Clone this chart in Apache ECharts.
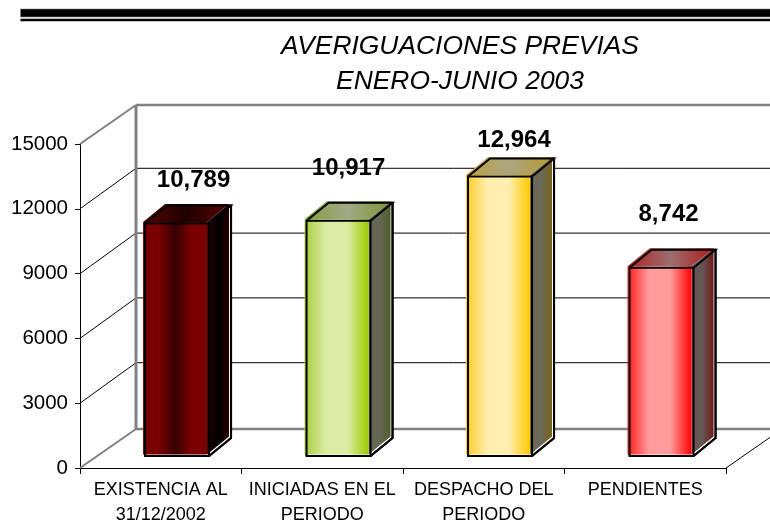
<!DOCTYPE html>
<html>
<head>
<meta charset="utf-8">
<style>html,body{margin:0;padding:0;background:#fff}#c{width:770px;height:532px}</style>
<script src="https://cdn.jsdelivr.net/npm/echarts@6/dist/echarts.min.js"></script>
</head>
<body>
<div id="c"></div>
<script>
var titleLines = ['AVERIGUACIONES PREVIAS', 'ENERO-JUNIO 2003'];
var categories = ['EXISTENCIA AL\n31/12/2002', 'INICIADAS EN EL\nPERIODO', 'DESPACHO DEL\nPERIODO', 'PENDIENTES'];
var values = [10789, 10917, 12964, 8742];
var yTicks = [0, 3000, 6000, 9000, 12000, 15000];

var chart = echarts.init(document.getElementById('c'), null, {renderer: 'canvas'});
var FONT = '"Liberation Sans", Arial, sans-serif';

// projection / styling of the pseudo-3D look
var WALL = {dx: 56, dy: -39, innerDy: -40.5};
var BAR = {w: 64, shift: 16.3, lift: 12, dx: 22, dy: -18};
var LABEL_NUDGE = [[16.5, -13], [10, -22], [14, -6], [7, -23]];

function h(stops) {
  return {type: 'linear', x: 0, y: 0, x2: 1, y2: 0,
    colorStops: stops.map(function (c, i) { return {offset: i / (stops.length - 1), color: c}; })};
}
var PAINT = [
  {front: h(['#7a0000', '#7a0000', '#340000', '#7a0000', '#7a0000']), top: h(['#560000', '#200000', '#580000']), side: h(['#2a0000', '#000000', '#240000'])},
  {front: h(['#a5cf3c', '#dcecA4', '#dcecA4', '#99cc00']), top: h(['#86a040', '#a2a884', '#7c9838']), side: h(['#666655', '#666655', '#50602a'])},
  {front: h(['#ffcc22', '#ffeeb0', '#ffeeb0', '#ffc800']), top: h(['#bea040', '#aca680', '#b89a30']), side: h(['#6c6a58', '#6c6a58', '#7a6018'])},
  {front: h(['#ff1a1a', '#ff9c9c', '#ff9c9c', '#ff0000']), top: h(['#b02020', '#9a7070', '#b01818']), side: h(['#665555', '#665555', '#701818'])}
];

function renderWall(params, api) {
  var tick = api.value(0);
  var left = api.coord([0, tick]);
  var x0 = params.coordSys.x, x1 = x0 + params.coordSys.width;
  var y = left[1];
  var edge = (tick === yTicks[0] || tick === yTicks[yTicks.length - 1]);
  var dy = edge ? WALL.dy : WALL.innerDy;
  var kids = [{
    type: 'line',
    shape: {x1: x0, y1: y, x2: x0 + WALL.dx, y2: y + dy},
    style: {stroke: edge ? '#808080' : '#000', lineWidth: edge ? 2 : 1}
  }, {
    type: 'line',
    shape: {x1: x0 + WALL.dx, y1: y + dy, x2: x1 + WALL.dx, y2: y + dy},
    style: {stroke: edge ? '#808080' : '#000', lineWidth: edge ? 2.4 : 1}
  }];
  if (tick === yTicks[0]) {
    kids.push({
      type: 'line',
      shape: {x1: x1, y1: y, x2: x1 + WALL.dx, y2: y + WALL.dy},
      style: {stroke: '#000', lineWidth: 1}
    });
  }
  if (tick === yTicks[yTicks.length - 1]) {
    var base = api.coord([0, 0]);
    kids.push({
      type: 'line',
      shape: {x1: x0 + WALL.dx, y1: y + WALL.dy, x2: x0 + WALL.dx, y2: base[1] + WALL.dy},
      style: {stroke: '#808080', lineWidth: 3}
    });
  }
  return {type: 'group', children: kids};
}

function poly(pts, ox, oy) {
  return pts.map(function (p) { return [p[0] + ox, p[1] + oy]; });
}

function renderBar(params, api) {
  var i = api.value(0), v = api.value(1);
  var top = api.coord([i, v]), base = api.coord([i, 0]);
  var xl = top[0] + BAR.shift - BAR.w / 2, xr = xl + BAR.w;
  var yt = top[1] - BAR.lift + 0.5, yb = base[1] - BAR.lift;
  var d = BAR.dx, e = BAR.dy;
  var p = PAINT[i];
  var front = [[xl, yt], [xr, yt], [xr, yb], [xl, yb]];
  var topFace = [[xl, yt], [xl + d, yt + e], [xr + d, yt + e], [xr, yt]];
  var side = [[xr, yt], [xr + d, yt + e], [xr + d, yb + e], [xr, yb]];
  var outline = [[xl, yb], [xl, yt], [xl + d, yt + e], [xr + d, yt + e], [xr + d, yb + e], [xr, yb]];
  var fx = -2, fy = -1.5;
  function shape(pts, style) { return {type: 'polygon', shape: {points: pts}, style: style}; }
  return {type: 'group', children: [
    shape(outline, {fill: '#fff', stroke: '#000', lineWidth: 2, lineJoin: 'miter'}),
    shape(poly(side, fx, fy), {fill: p.side}),
    shape(poly(topFace, fx, fy), {fill: p.top}),
    shape(poly(front, fx, fy), {fill: p.front}),
    {type: 'polyline', shape: {points: [[xl, yb], [xl, yt], [xr, yt], [xr, yb], [xl, yb]]},
     style: {stroke: '#000', lineWidth: 2, fill: null}},
    {type: 'polyline', shape: {points: [[xl, yt], [xl + d, yt + e], [xr + d, yt + e], [xr, yt]]},
     style: {stroke: '#000', lineWidth: 2, fill: null}},
    {type: 'polyline', shape: {points: [[xr + d, yt + e], [xr + d, yb + e], [xr, yb]]},
     style: {stroke: '#000', lineWidth: 2, fill: null}}
  ]};
}

function renderLabel(params, api) {
  var i = api.value(0), v = api.value(1);
  var top = api.coord([i, v]);
  var n = LABEL_NUDGE[i];
  return {
    type: 'text',
    z2: 100,
    style: {
      x: top[0] + BAR.shift + n[0],
      y: top[1] - BAR.lift + BAR.dy + n[1],
      text: v.toLocaleString('en-US'),
      font: 'bold 24px ' + FONT,
      fill: '#000',
      align: 'center',
      verticalAlign: 'bottom'
    }
  };
}

chart.setOption({
  animation: false,
  backgroundColor: '#fff',
  title: {
    text: titleLines.join('\n'),
    left: 455, top: 24, textAlign: 'center',
    textStyle: {fontFamily: FONT, fontStyle: 'italic', fontWeight: 'normal', fontSize: 26.4, lineHeight: 35, color: '#000'}
  },
  grid: {left: 80, right: 44, top: 144, bottom: 64, containLabel: false},
  xAxis: {
    type: 'category', data: categories, boundaryGap: true,
    axisLine: {show: true, lineStyle: {color: '#000', width: 1}},
    axisTick: {show: true, alignWithLabel: false, length: 6, lineStyle: {color: '#000'}},
    axisLabel: {interval: 0, margin: 10, fontFamily: FONT, fontSize: 18, lineHeight: 25, color: '#000', hideOverlap: false},
    splitLine: {show: false}
  },
  yAxis: {
    type: 'value', min: 0, max: 15000, interval: 3000,
    axisLine: {show: true, lineStyle: {color: '#000', width: 1}},
    axisTick: {show: true, length: 5, lineStyle: {color: '#000'}},
    axisLabel: {margin: 12, fontFamily: FONT, fontSize: 20.5, color: '#000', formatter: function (v) { return String(v); }},
    splitLine: {show: false}
  },
  graphic: [
    {type: 'rect', shape: {x: 20.5, y: 9, width: 750, height: 8}, style: {fill: '#000', stroke: '#888', lineWidth: 0.6}},
    {type: 'rect', shape: {x: 20.5, y: 18.8, width: 750, height: 2.4}, style: {fill: '#000'}}
  ],
  series: [
    {type: 'custom', coordinateSystem: 'cartesian2d', clip: false, silent: true, z: 1,
     data: yTicks.map(function (t) { return [t]; }), encode: {y: 0}, renderItem: renderWall},
    {type: 'custom', coordinateSystem: 'cartesian2d', clip: false, silent: true, z: 2,
     data: values.map(function (v, i) { return [i, v]; }), encode: {x: 0, y: 1}, renderItem: renderBar},
    {type: 'custom', coordinateSystem: 'cartesian2d', clip: false, silent: true, z: 3,
     data: values.map(function (v, i) { return [i, v]; }), encode: {x: 0, y: 1}, renderItem: renderLabel}
  ]
});
</script>
</body>
</html>
